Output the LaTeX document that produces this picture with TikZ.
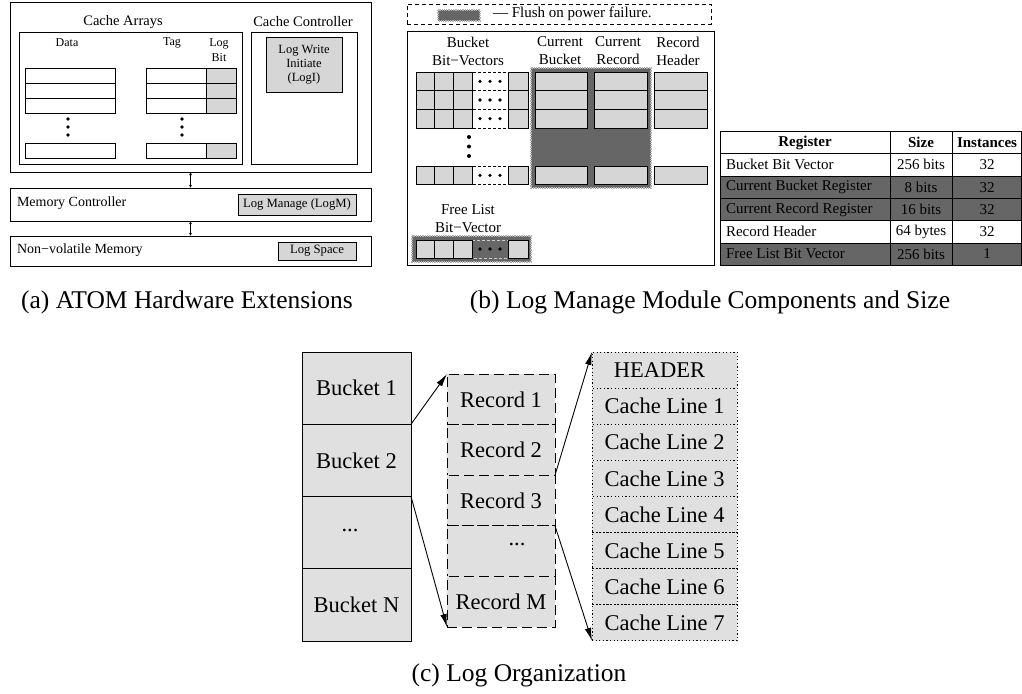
\documentclass[tikz,border=0pt]{standalone}
\usepackage{fontspec}
\setmainfont{Liberation Serif}
\usetikzlibrary{arrows.meta}
\definecolor{cellgray}{gray}{0.84}
\definecolor{loggray}{gray}{0.88}
\definecolor{flushgray}{gray}{0.40}
\newcommand\fsz[2]{\fontsize{#1}{#2}\selectfont}
\tikzset{
  box/.style={draw=black, line width=0.8pt},
  cell/.style={draw=black, line width=0.8pt, fill=cellgray},
  whitecell/.style={draw=black, line width=0.8pt, fill=white},
  flush/.style={fill=flushgray, draw=black!30, densely dotted, line width=1.3pt},
  dotcell/.style={draw=black, line width=0.8pt, fill=white, dash pattern=on 3pt off 2pt},
  dotcelldark/.style={draw=black!20, line width=0.8pt, fill=flushgray, dash pattern=on 3pt off 2pt},
  txt/.style={inner sep=0pt, outer sep=0pt},
  nwbox/.style={anchor=north west, inner sep=0pt, outer sep=0pt},
  dbl/.style={{Latex[length=3pt,width=3pt]}-{Latex[length=3pt,width=3pt]}, line width=0.7pt},
  bucket/.style={nwbox, draw=black, line width=0.9pt, fill=loggray, minimum width=109, minimum height=72.25, font=\fsz{22.5}{26}},
  record/.style={nwbox, draw=black, line width=0.9pt, fill=loggray, dash pattern=on 10pt off 5pt, minimum width=108, minimum height=50.6, font=\fsz{22.5}{26}},
  line/.style={nwbox, draw=black, line width=0.9pt, fill=loggray, dash pattern=on 1.2pt off 2.4pt, minimum width=145, minimum height=36.1, font=\fsz{22.5}{26}},
  link/.style={-{Latex[length=13pt,width=6.5pt]}, line width=0.9pt},
  caption/.style={txt, font=\fsz{25.5}{30}},
  tab/.style={txt, font=\fsz{15}{18}},
}
\begin{document}
\begin{tikzpicture}[x=1pt, y=-1pt]
\useasboundingbox (0,0) rectangle (1022,693);

% ---------------- (a) ATOM hardware extensions ----------------
\node[nwbox, box, minimum width=361, minimum height=170] (cache) at (10,2) {};
\node[txt, font=\fsz{14.5}{17}] (calbl) at (123,22) {Cache Arrays};
\node[txt, font=\fsz{14.5}{17}] (cclbl) at (303,22) {Cache Controller};
\node[nwbox, box, minimum width=223, minimum height=132] (arrays) at (19,32) {};
\node[nwbox, box, minimum width=106, minimum height=132] (ctrl) at (251,32) {};
\node[nwbox, cell, minimum width=76, minimum height=55, align=center, font=\fsz{12.5}{14}] (logi) at (266,37) {Log Write\\Initiate\\(LogI)};
\node[txt, font=\fsz{12}{14}] (datalbl) at (67,43) {Data};
\node[txt, font=\fsz{12}{14}] (taglbl) at (172,43) {Tag};
\node[txt, font=\fsz{12}{15}, align=center] (logbitlbl) at (219,50) {Log\\Bit};
\foreach \y in {68,83,98,143} {
  \draw[whitecell] (25,\y) rectangle (115,\y+15);
  \draw[whitecell] (146,\y) rectangle (206,\y+15);
  \draw[cell] (206,\y) rectangle (236,\y+15);
}
\foreach \y in {119,127,135} {
  \fill (68,\y) circle (1.9);
  \fill (182,\y) circle (1.9);
}
\node[nwbox, box, minimum width=361, minimum height=33] (memctrl) at (10,188) {};
\node[txt, anchor=west, font=\fsz{14}{17}] (mclbl) at (17,203) {Memory Controller};
\node[nwbox, cell, minimum width=118, minimum height=21, font=\fsz{12.7}{15}] (logm) at (238,194) {Log Manage (LogM)};
\node[nwbox, box, minimum width=361, minimum height=30] (nvm) at (10,236) {};
\node[txt, anchor=west, font=\fsz{14}{17}] (nvmlbl) at (17,250) {Non−volatile Memory};
\node[nwbox, cell, minimum width=78, minimum height=18, font=\fsz{12.7}{15}] (logspace) at (278,242) {Log Space};
\draw[dbl] (cache.south) -- (memctrl.north);
\draw[dbl] (memctrl.south) -- (nvm.north);
\node[caption] (capa) at (187,302) {(a) ATOM Hardware Extensions};

% ---------------- (b) Log manage module ----------------
\node[nwbox, draw=black, line width=0.8pt, dash pattern=on 4pt off 3pt, minimum width=304, minimum height=20] (legend) at (407,4) {};
\draw[flush] (438,10) rectangle (480,21);
\node[txt, anchor=west, font=\fsz{15}{18}] (legendtxt) at (493,14) {--- Flush on power failure.};
\node[nwbox, box, minimum width=307, minimum height=234] (lmbox) at (407,31) {};
\node[txt, align=center, font=\fsz{15}{18}] (bbvlbl) at (468,51) {Bucket\\Bit−Vectors};
\node[txt, align=center, font=\fsz{15}{18}] (cblbl) at (560,51) {Current\\Bucket};
\node[txt, align=center, font=\fsz{15}{18}] (crlbl) at (618,51) {Current\\Record};
\node[txt, align=center, font=\fsz{15}{18}] (rhlbl) at (678,51) {Record\\Header};
\draw[flush] (531,68) rectangle (651,188);
\foreach \y in {72,90.67,109.33,166} {
  \draw[dotcell] (472,\y) rectangle (508,\y+18.67);
  \foreach \xa/\xb in {416/434,434/453,453/472,508/528,535/587,594/647,654/707}
    \draw[cell] (\xa,\y) rectangle (\xb,\y+18.67);
  \foreach \xd in {480,490,500}
    \fill (\xd,\y+9.33) circle (1.8);
}
\foreach \y in {137,146.5,156}
  \fill (469,\y) circle (2);
\node[txt, align=center, font=\fsz{15}{18}] (fllbl) at (468,218.5) {Free List\\Bit−Vector};
\draw[flush] (412,236) rectangle (531,262);
\draw[dotcelldark] (472,240) rectangle (508,258);
\foreach \xa/\xb in {416/434,434/453,453/472,508/528}
  \draw[cell] (\xa,240) rectangle (\xb,258);
\foreach \xd in {480,490,500}
  \fill (\xd,249) circle (1.8);

% register table
\fill[flushgray] (720,176) rectangle (1022,220.5);
\fill[flushgray] (720,243) rectangle (1022,265);
\foreach \y in {131.5,153.5,176,198.5,220.5,243,265}
  \draw[line width=0.8pt] (720,\y) -- (1022,\y);
\foreach \x in {720.4,890,952,1021.6}
  \draw[line width=0.8pt] (\x,131.5) -- (\x,265);
\node[tab, font=\fsz{15}{18}\bfseries] (th1) at (805,142.5) {Register};
\node[tab, font=\fsz{15}{18}\bfseries] (th2) at (921,142.5) {Size};
\node[tab, font=\fsz{15}{18}\bfseries] (th3) at (987,142.5) {Instances};
\node[tab, anchor=west] (r1a) at (726,164.7) {Bucket Bit Vector};
\node[tab] (r1b) at (921,164.7) {256 bits};
\node[tab] (r1c) at (987,164.7) {32};
\node[tab, anchor=west] (r2a) at (726,187.2) {Current Bucket Register};
\node[tab] (r2b) at (921,187.2) {8 bits};
\node[tab] (r2c) at (987,187.2) {32};
\node[tab, anchor=west] (r3a) at (726,209.5) {Current Record Register};
\node[tab] (r3b) at (921,209.5) {16 bits};
\node[tab] (r3c) at (987,209.5) {32};
\node[tab, anchor=west] (r4a) at (726,231.7) {Record Header};
\node[tab] (r4b) at (921,231.7) {64 bytes};
\node[tab] (r4c) at (987,231.7) {32};
\node[tab, anchor=west] (r5a) at (726,254) {Free List Bit Vector};
\node[tab] (r5b) at (921,254) {256 bits};
\node[tab] (r5c) at (987,254) {1};
\node[caption] (capb) at (710,302) {(b) Log Manage Module Components and Size};

% ---------------- (c) Log organization ----------------
\node[bucket] (b1) at (302,352) {Bucket 1};
\node[bucket] (b2) at (302,424.25) {Bucket 2};
\node[bucket] (b3) at (302,496.5) {};
\node[txt, font=\fsz{22.5}{26}] (b3dots) at (350,530) {...};
\node[bucket] (bN) at (302,568.75) {Bucket N};

\node[record] (r1) at (447,374) {Record 1};
\node[record] (r2) at (447,424.6) {Record 2};
\node[record] (r3) at (447,475.2) {Record 3};
\node[record] (r4) at (447,525.8) {};
\node[txt, font=\fsz{22.5}{26}] (r4dots) at (517,544) {...};
\node[record] (rM) at (447,576.4) {Record M};

\node[line] (hdr) at (592,352) {HEADER\hspace*{10pt}};
\foreach \i in {1,...,7}
  \node[line] (cl\i) at (592,352+36.1*\i) {Cache Line \i};

\draw[link] (b1.south east) -- (r1.north west);
\draw[link] (b2.south east) -- (rM.south west);
\draw[link] (r2.south east) -- (hdr.north west);
\draw[link] (r3.south east) -- (cl7.south west);
\node[caption] (capc) at (519,675) {(c) Log Organization};
\end{tikzpicture}
\end{document}
